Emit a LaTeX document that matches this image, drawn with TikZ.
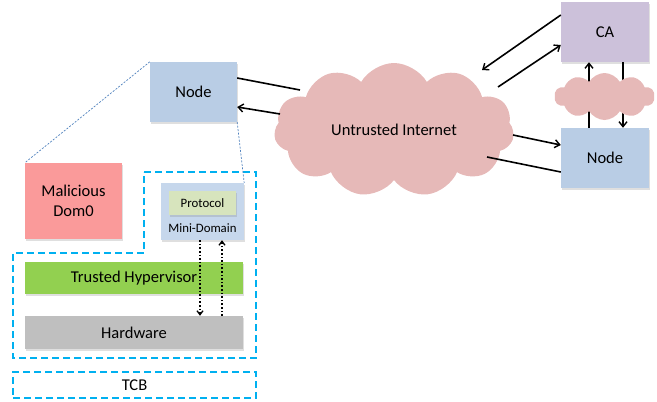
\documentclass[tikz,border=0pt]{standalone}
\usepackage{fontspec}
\setmainfont{Carlito}
\usetikzlibrary{shapes.symbols,arrows.meta,shadows}
\definecolor{nodeblue}{HTML}{B9CDE5}
\definecolor{miniblue}{HTML}{C6D7EC}
\definecolor{calav}{HTML}{CCC1DA}
\definecolor{domred}{HTML}{FA9A9A}
\definecolor{cloudpink}{HTML}{E6B9B8}
\definecolor{hypgreen}{HTML}{92D050}
\definecolor{protgreen}{HTML}{D7E4BD}
\definecolor{hwgray}{HTML}{BFBFBF}
\definecolor{tcbcyan}{HTML}{00B0F0}
\definecolor{guideblue}{HTML}{4F81BD}
\tikzset{
  box/.style={rectangle, draw=none, inner sep=0pt, font=\fontsize{16.5}{19}\selectfont,
    drop shadow={shadow xshift=1pt, shadow yshift=-2pt, opacity=0.25}},
  smalltext/.style={font=\fontsize{12.8}{15}\selectfont},
  conn/.style={line width=1.6pt, black},
  tip/.style={-{Straight Barb[length=5pt,width=8pt,line width=1.4pt]}},
  dotarrow/.style={line width=1.6pt, dotted, -{Straight Barb[length=4pt,width=6pt,line width=1.3pt]}},
  tcbline/.style={draw=tcbcyan, line width=1.8pt, dash pattern=on 7pt off 4pt},
  guide/.style={draw=guideblue, line width=0.7pt, dash pattern=on 2pt off 1.5pt},
  cloudy/.style={cloud, cloud puffs=11, cloud puff arc=120, fill=cloudpink, draw=none, inner sep=0pt, aspect=1.8}
}
\begin{document}
\begin{tikzpicture}[x=1pt,y=-1pt]
\useasboundingbox (0,0) rectangle (657,402);

% big cloud
\node[cloudy, minimum width=240pt, minimum height=134pt, font=\fontsize{16.5}{19}\selectfont] (net) at (394,130) {Untrusted Internet};

% boxes
\node[box, fill=nodeblue, minimum width=87pt, minimum height=60pt] (n1) at (193.5,92) {Node};
\node[box, fill=domred, minimum width=97pt, minimum height=76pt, align=center] (dom0) at (73.5,201) {Malicious\\[1pt]Dom0};
\node[box, fill=miniblue, minimum width=83pt, minimum height=57pt] (mini) at (202.5,211.5) {};
\node[box, fill=protgreen, minimum width=67pt, minimum height=24pt, smalltext, drop shadow={opacity=0}] (prot) at (202.5,203) {Protocol};
\node[smalltext] (minilbl) at (202.5,228) {Mini-Domain};
\node[box, fill=hypgreen, minimum width=218pt, minimum height=32pt] (hyp) at (134,278) {Trusted Hypervisor};
\node[box, fill=hwgray, minimum width=218pt, minimum height=33pt] (hw) at (134,332.5) {Hardware};
\node[box, fill=calav, minimum width=88pt, minimum height=60pt] (ca) at (605,32) {CA};
\node[box, fill=nodeblue, minimum width=88pt, minimum height=60pt] (n2) at (605,158) {Node};

% TCB outlines
\draw[tcbline] (144,172) -- (256,172) -- (256,358) -- (13,358) -- (13,253) -- (144,253) -- cycle;
\node[tcbline, rectangle, minimum width=243pt, minimum height=26pt, inner sep=0pt, font=\fontsize{16.5}{19}\selectfont] (tcb) at (134.5,385) {TCB};

% guide lines
\draw[guide] (n1.north west) -- (dom0.north west);
\draw[guide] (n1.south east) -- (mini.north east);

% dotted arrows
\draw[dotarrow] ([xshift=-2.5pt]mini.south) -- ([xshift=-2.5pt]mini.south |- hw.north);
\draw[dotarrow] ([xshift=19.5pt]mini.south |- hw.north) -- ([xshift=19.5pt]mini.south);

% cloud edge coordinates
\coordinate (c1) at (300,90);
\coordinate (c2) at (280,114);
\coordinate (c3) at (482,70);
\coordinate (c4) at (498,87);
\coordinate (c5) at (513,135);
\coordinate (c6) at (487,157);

\draw[conn] ([yshift=14pt]n1.east) -- (c1);
\draw[conn,tip] (c2) -- ([yshift=-15pt]n1.east);
\draw[conn,tip] ([yshift=17pt]ca.west) -- (c3);
\draw[conn,tip] (c4) -- ([yshift=-13pt]ca.west);
\draw[conn,tip] (c5) -- ([yshift=13pt]n2.west);
\draw[conn] ([yshift=-14pt]n2.west) -- (c6);

% CA <-> Node via small cloud
\draw[conn,tip] ([xshift=-16pt]n2.north) -- ([xshift=-16pt]ca.south);
\draw[conn,tip] ([xshift=18pt]ca.south) -- ([xshift=18pt]n2.north);
\node[cloudy, cloud puffs=10, minimum width=100pt, minimum height=47pt, aspect=2.2] (sc) at (604.5,96.5) {};
\end{tikzpicture}
\end{document}
